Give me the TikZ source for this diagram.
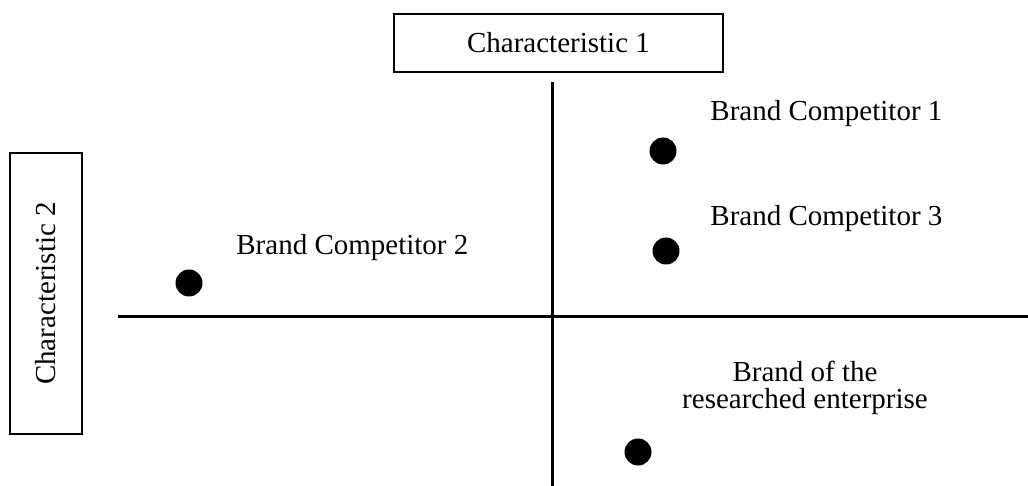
\documentclass[tikz,border=0pt]{standalone}
\usepackage{fontspec}
\setmainfont{Liberation Serif}
\tikzset{
    labelbox/.style={draw, line width=1pt, inner sep=0pt, font=\fontsize{14.5}{17}\selectfont},
    axis/.style={line width=1.5pt},
    brand/.style={circle, fill, inner sep=0pt, minimum size=13.5pt},
    brandname/.style={inner sep=0pt, font=\fontsize{14.5}{13.5}\selectfont}
}
\begin{document}
\begin{tikzpicture}[x=0.5pt, y=-0.5pt]
            \useasboundingbox (0,0) rectangle (1028,486);

            \node[labelbox, minimum width=164.5pt, minimum height=29pt] (char1) at (558.5, 43) {Characteristic 1};
            \node[labelbox, rotate=90, minimum width=140.5pt, minimum height=36pt] (char2) at (46, 293.5) {Characteristic 2};

            \coordinate (xl) at (118, 317);
            \coordinate (xr) at (1028, 317);
            \coordinate (yt) at (552, 82);
            \coordinate (yb) at (552, 486);
            \draw[axis] (xl) -- (xr);
            \draw[axis] (yt) -- (yb);

            \node[brand] (comp1) at (663, 151) {};
            \node[brand] (comp2) at (189, 283) {};
            \node[brand] (comp3) at (666, 251) {};
            \node[brand] (firm) at (638, 452) {};

            \node[brandname, anchor=base west] (comp1name) at (710, 121) {Brand Competitor 1};
            \node[brandname, anchor=base west] (comp2name) at (236, 255) {Brand Competitor 2};
            \node[brandname, anchor=base west] (comp3name) at (710, 226) {Brand Competitor 3};
            \node[brandname, anchor=north, align=center] (firmname) at (805, 361) {Brand of the\\researched enterprise};
        \end{tikzpicture}
\end{document}
